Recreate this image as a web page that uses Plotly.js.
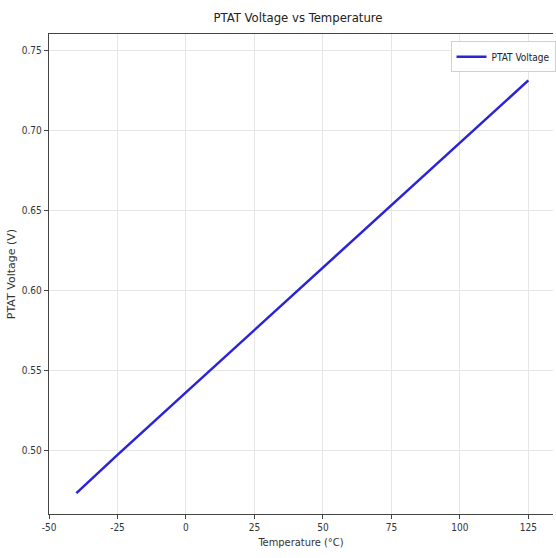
<!DOCTYPE html>
<html>
<head>
<meta charset="utf-8">
<script src="https://cdn.plot.ly/plotly-3.0.1.min.js"></script>
<style>
html,body{margin:0;padding:0;background:#fff;}
#chart{width:556px;height:558px;}
#chart text{font-stretch:condensed !important;}
#chart .ytitle{font-stretch:normal !important;}
</style>
</head>
<body>
<div id="chart"></div>
<script>
const temperatureC = [-40, -25, 0, 25, 50, 75, 100, 125];
const ptatVoltage = [0.473, 0.497, 0.536, 0.575, 0.614, 0.653, 0.692, 0.731];
const xTickVals = [-50, -25, 0, 25, 50, 75, 100, 125];
const yTickVals = [0.50, 0.55, 0.60, 0.65, 0.70, 0.75];
const yTickText = ['0.50', '0.55', '0.60', '0.65', '0.70', '0.75'];

const narrow = '"DejaVu Sans Condensed", "DejaVu Sans", sans-serif';

const trace = {
  x: temperatureC, y: ptatVoltage, type: 'scatter', mode: 'lines',
  name: 'PTAT Voltage',
  line: {color: '#2a23d8', width: 2.5}
};

const layout = {
  width: 556, height: 558,
  margin: {l: 49, r: 0, t: 34, b: 44},
  paper_bgcolor: '#fff', plot_bgcolor: '#fff',
  title: {text: 'PTAT Voltage vs Temperature', x: 0.536, xanchor: 'center', y: 0.968, yanchor: 'middle',
          font: {family: narrow, size: 13, color: '#222'}},
  xaxis: {
    range: [-50, 134], tickvals: xTickVals, ticktext: xTickVals.map(String),
    showgrid: true, gridcolor: '#e6e6e6', gridwidth: 1, zeroline: false,
    showline: true, linecolor: '#444', linewidth: 1.2, mirror: true,
    ticks: 'outside', ticklen: 4, tickcolor: '#444',
    tickfont: {family: narrow, size: 10, color: '#333'},
    title: {text: 'Temperature (°C)', font: {family: narrow, size: 11, color: '#333'}, standoff: 6}
  },
  yaxis: {
    range: [0.46, 0.76], tickvals: yTickVals, ticktext: yTickText,
    showgrid: true, gridcolor: '#e6e6e6', gridwidth: 1, zeroline: false,
    showline: true, linecolor: '#444', linewidth: 1.2,
    ticks: 'outside', ticklen: 4, tickcolor: '#444',
    tickfont: {family: narrow, size: 10, color: '#333'},
    title: {text: 'PTAT Voltage (V)', font: {family: 'DejaVu Sans, sans-serif', size: 11, color: '#333'}, standoff: 4}
  },
  showlegend: true,
  legend: {x: 1.005, xanchor: 'right', y: 0.985, yanchor: 'top',
           bgcolor: 'rgba(255,255,255,0.9)', bordercolor: '#d0d0d0', borderwidth: 1,
           font: {family: narrow, size: 10, color: '#222'}}
};

Plotly.newPlot('chart', [trace], layout, {displayModeBar: false, staticPlot: true});
</script>
</body>
</html>
